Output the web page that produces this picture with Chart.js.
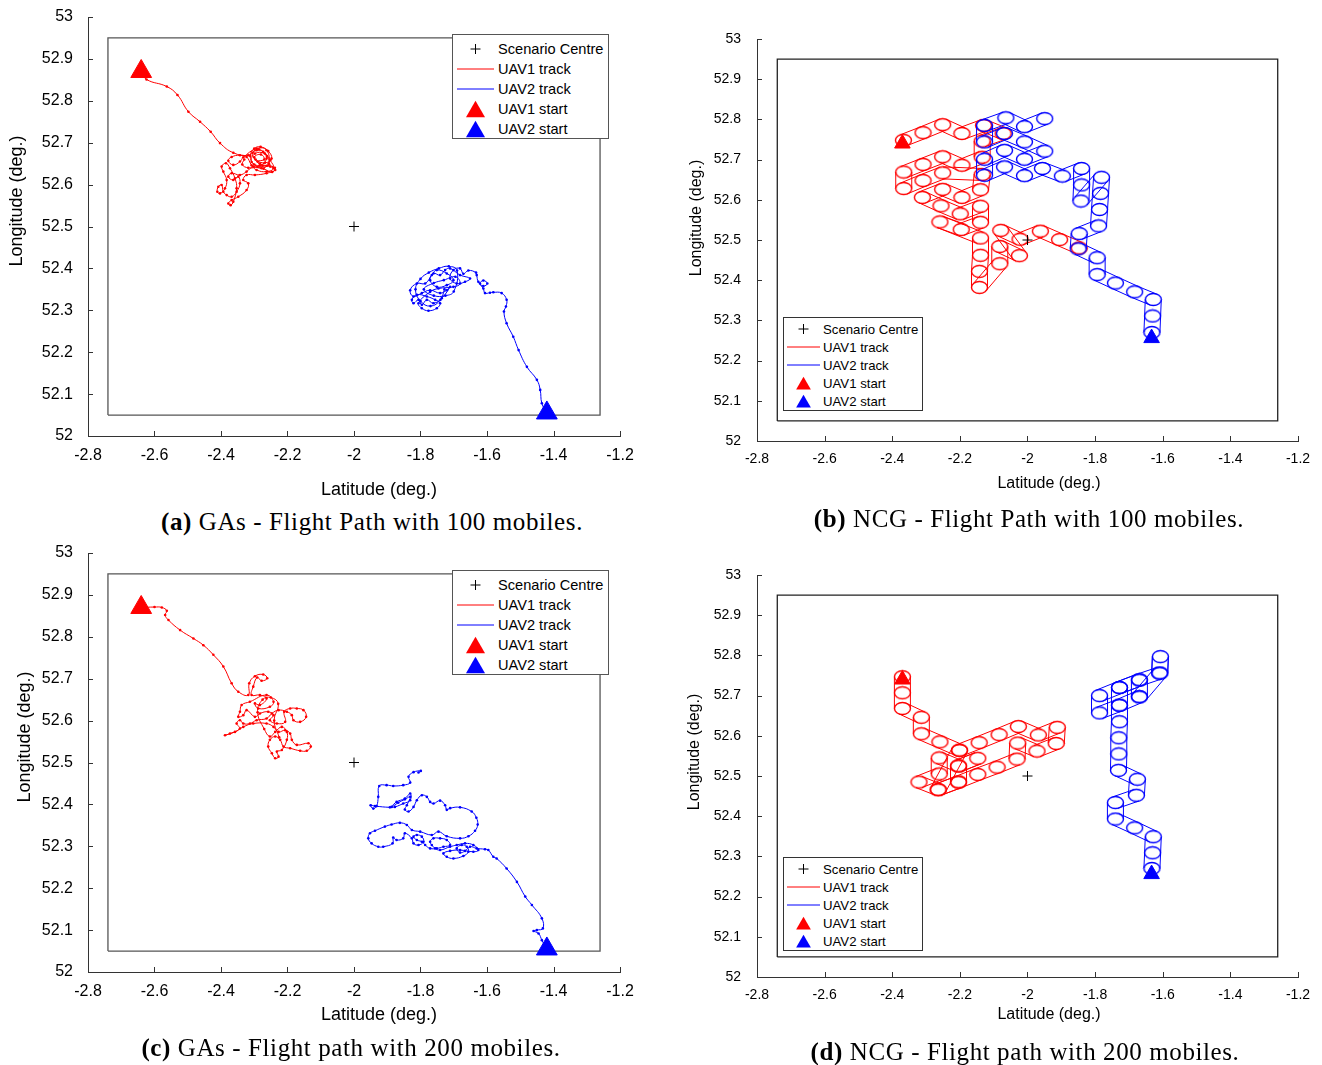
<!DOCTYPE html>
<html>
<head>
<meta charset="utf-8">
<script src="https://cdn.jsdelivr.net/npm/chart.js@4.4.0/dist/chart.umd.min.js"></script>
<style>
  body { margin: 0; width: 1322px; height: 1065px; background: #fff; position: relative; overflow: hidden; font-family: "Liberation Sans", Arial, sans-serif; }
  canvas { position: absolute; }
  .legend { position: absolute; box-sizing: border-box; background: #fff; z-index: 2; color: #000; }
  .legend .row { display: flex; align-items: center; white-space: nowrap; }
  .legend svg { display: block; flex: none; }
  .caption { position: absolute; width: 640px; text-align: center; font-family: "Liberation Serif", "Times New Roman", serif; font-size: 25px; letter-spacing: 0.6px; line-height: 30px; color: #000; }
</style>
</head>
<body>
<script>
// ---- axis ticks ----
const latTicks = [-2.8, -2.6, -2.4, -2.2, -2, -1.8, -1.6, -1.4, -1.2];
const lonTicks = [52, 52.1, 52.2, 52.3, 52.4, 52.5, 52.6, 52.7, 52.8, 52.9, 53];

// ---- common geometry ----
const scenarioCentre = [[-2, 52.5]];
const boundary = [[-2.74, 52.05], [-1.26, 52.05], [-1.26, 52.95], [-2.74, 52.95], [-2.74, 52.05]];
const legendLabels = ['Scenario Centre', 'UAV1 track', 'UAV2 track', 'UAV1 start', 'UAV2 start'];

// ---- (a) GAs, 100 mobiles ----
const gaStart1_100 = [[-2.64, 52.87]];
const gaStart2_100 = [[-1.42, 52.055]];
const gaTrack1_100 = [
  [-2.640, 52.870], [-2.624, 52.851], [-2.563, 52.834], [-2.531, 52.814], [-2.498, 52.774], [-2.463, 52.750],
  [-2.431, 52.726], [-2.403, 52.699], [-2.363, 52.676], [-2.318, 52.670], [-2.293, 52.682], [-2.273, 52.678],
  [-2.263, 52.662], [-2.283, 52.646], [-2.308, 52.654], [-2.298, 52.674], [-2.268, 52.674], [-2.252, 52.658],
  [-2.242, 52.639], [-2.263, 52.631], [-2.293, 52.635], [-2.308, 52.646], [-2.323, 52.666], [-2.343, 52.670],
  [-2.368, 52.666], [-2.378, 52.657], [-2.363, 52.647], [-2.343, 52.655], [-2.333, 52.665], [-2.293, 52.686],
  [-2.263, 52.682], [-2.257, 52.650], [-2.278, 52.639], [-2.303, 52.643], [-2.323, 52.631], [-2.343, 52.623],
  [-2.368, 52.627], [-2.378, 52.619], [-2.363, 52.611], [-2.348, 52.619], [-2.343, 52.603], [-2.353, 52.583],
  [-2.368, 52.571], [-2.383, 52.575], [-2.393, 52.583], [-2.398, 52.599], [-2.408, 52.595], [-2.411, 52.583],
  [-2.403, 52.579], [-2.388, 52.591], [-2.383, 52.611], [-2.393, 52.631], [-2.398, 52.643], [-2.385, 52.651],
  [-2.373, 52.639], [-2.358, 52.615], [-2.353, 52.591], [-2.363, 52.559], [-2.371, 52.551], [-2.378, 52.555],
  [-2.368, 52.563], [-2.348, 52.571], [-2.323, 52.587], [-2.318, 52.603], [-2.333, 52.611], [-2.323, 52.623],
  [-2.298, 52.623], [-2.263, 52.627], [-2.237, 52.635], [-2.252, 52.643], [-2.283, 52.650], [-2.300, 52.665],
  [-2.280, 52.672], [-2.270, 52.660], [-2.290, 52.655], [-2.275, 52.645], [-2.255, 52.648], [-2.262, 52.668],
  [-2.286, 52.684], [-2.305, 52.676], [-2.296, 52.660], [-2.268, 52.652], [-2.248, 52.662], [-2.258, 52.680],
  [-2.281, 52.690], [-2.300, 52.686], [-2.312, 52.668], [-2.300, 52.648], [-2.272, 52.638], [-2.246, 52.630],
  [-2.238, 52.640], [-2.262, 52.645], [-2.290, 52.642], [-2.318, 52.640], [-2.336, 52.648], [-2.330, 52.660]
];
const gaTrack2_100 = [
  [-1.420, 52.055], [-1.435, 52.078], [-1.440, 52.110], [-1.450, 52.134], [-1.480, 52.165], [-1.505, 52.205],
  [-1.521, 52.237], [-1.541, 52.269], [-1.549, 52.297], [-1.543, 52.309], [-1.541, 52.325], [-1.556, 52.341],
  [-1.581, 52.343], [-1.591, 52.342], [-1.606, 52.341], [-1.611, 52.352], [-1.621, 52.364], [-1.611, 52.371],
  [-1.599, 52.364], [-1.611, 52.358], [-1.626, 52.368], [-1.631, 52.384], [-1.633, 52.390], [-1.656, 52.395],
  [-1.671, 52.387], [-1.681, 52.400], [-1.701, 52.396], [-1.711, 52.376], [-1.691, 52.364], [-1.666, 52.368],
  [-1.651, 52.376], [-1.681, 52.384], [-1.711, 52.400], [-1.726, 52.396], [-1.741, 52.384], [-1.761, 52.388],
  [-1.771, 52.372], [-1.751, 52.356], [-1.721, 52.360], [-1.701, 52.372], [-1.721, 52.388], [-1.751, 52.396],
  [-1.766, 52.384], [-1.786, 52.364], [-1.811, 52.364], [-1.831, 52.348], [-1.821, 52.333], [-1.796, 52.341],
  [-1.771, 52.348], [-1.741, 52.341], [-1.721, 52.348], [-1.711, 52.356], [-1.736, 52.329], [-1.761, 52.317],
  [-1.781, 52.325], [-1.796, 52.313], [-1.806, 52.325], [-1.821, 52.317], [-1.826, 52.325], [-1.811, 52.337],
  [-1.781, 52.333], [-1.756, 52.325], [-1.741, 52.317], [-1.751, 52.305], [-1.776, 52.299], [-1.796, 52.305],
  [-1.806, 52.317], [-1.771, 52.344], [-1.746, 52.352], [-1.701, 52.356], [-1.681, 52.364], [-1.695, 52.380],
  [-1.730, 52.372], [-1.760, 52.365], [-1.790, 52.350], [-1.760, 52.335], [-1.725, 52.335], [-1.700, 52.345],
  [-1.690, 52.395], [-1.715, 52.405], [-1.745, 52.400], [-1.775, 52.390], [-1.800, 52.375], [-1.815, 52.350],
  [-1.800, 52.322], [-1.770, 52.310], [-1.740, 52.325], [-1.728, 52.350]
];

// ---- (b) NCG, 100 mobiles ----
const ncgStart1_100 = [[-2.37, 52.74]];
const ncgStart2_100 = [[-1.633, 52.256]];
const ncgTrack1_100 = [
  [-2.367, 52.748], [-2.309, 52.767], [-2.251, 52.787], [-2.194, 52.765], [-2.130, 52.785], [-2.072, 52.765],
  [-2.134, 52.746], [-2.134, 52.706], [-2.194, 52.686], [-2.251, 52.707], [-2.309, 52.688], [-2.366, 52.669],
  [-2.366, 52.628], [-2.309, 52.648], [-2.251, 52.667], [-2.134, 52.663], [-2.139, 52.625], [-2.194, 52.606],
  [-2.251, 52.626], [-2.311, 52.606], [-2.256, 52.585], [-2.199, 52.565], [-2.139, 52.584], [-2.139, 52.544],
  [-2.196, 52.526], [-2.259, 52.545], [-2.139, 52.505], [-2.139, 52.462], [-2.142, 52.422], [-2.142, 52.382],
  [-2.082, 52.441], [-2.082, 52.484], [-2.024, 52.461], [-2.079, 52.524], [-2.022, 52.502], [-1.962, 52.522],
  [-1.905, 52.501], [-1.847, 52.480]
];
const ncgTrack2_100 = [
  [-1.632, 52.270], [-1.630, 52.311], [-1.628, 52.352], [-1.683, 52.371], [-1.740, 52.393], [-1.794, 52.414],
  [-1.794, 52.456], [-1.850, 52.478], [-1.847, 52.516], [-1.790, 52.535], [-1.787, 52.576], [-1.784, 52.616],
  [-1.781, 52.656], [-1.842, 52.597], [-1.840, 52.637], [-1.840, 52.678], [-1.897, 52.659], [-1.956, 52.678],
  [-2.009, 52.660], [-2.068, 52.682], [-2.127, 52.661], [-2.127, 52.701], [-2.068, 52.723], [-2.009, 52.701],
  [-1.949, 52.721], [-2.009, 52.744], [-2.068, 52.765], [-2.127, 52.744], [-2.127, 52.785], [-2.064, 52.804],
  [-2.009, 52.782], [-1.949, 52.802]
];

// ---- (c) GAs, 200 mobiles ----
const gaStart1_200 = [[-2.64, 52.87]];
const gaStart2_200 = [[-1.42, 52.055]];
const gaTrack1_200 = [
  [-2.640, 52.870], [-2.600, 52.871], [-2.578, 52.870], [-2.563, 52.862], [-2.568, 52.852], [-2.558, 52.840],
  [-2.523, 52.816], [-2.483, 52.796], [-2.453, 52.780], [-2.423, 52.757], [-2.393, 52.729], [-2.368, 52.689],
  [-2.348, 52.669], [-2.318, 52.661], [-2.315, 52.689], [-2.298, 52.706], [-2.273, 52.710], [-2.261, 52.701],
  [-2.278, 52.695], [-2.291, 52.703], [-2.303, 52.681], [-2.308, 52.661], [-2.283, 52.661], [-2.263, 52.653],
  [-2.283, 52.637], [-2.298, 52.641], [-2.288, 52.629], [-2.253, 52.633], [-2.242, 52.645], [-2.263, 52.661],
  [-2.313, 52.645], [-2.338, 52.637], [-2.343, 52.621], [-2.348, 52.609], [-2.333, 52.613], [-2.323, 52.625],
  [-2.298, 52.609], [-2.283, 52.617], [-2.258, 52.621], [-2.242, 52.613], [-2.253, 52.601], [-2.232, 52.593],
  [-2.207, 52.597], [-2.210, 52.621], [-2.192, 52.629], [-2.172, 52.629], [-2.152, 52.625], [-2.144, 52.609],
  [-2.162, 52.597], [-2.182, 52.601], [-2.187, 52.613], [-2.202, 52.621], [-2.227, 52.625], [-2.247, 52.617],
  [-2.263, 52.605], [-2.293, 52.601], [-2.313, 52.593], [-2.333, 52.593], [-2.343, 52.601], [-2.353, 52.593],
  [-2.343, 52.581], [-2.373, 52.569], [-2.388, 52.565], [-2.358, 52.573], [-2.333, 52.585], [-2.303, 52.593],
  [-2.263, 52.593], [-2.242, 52.585], [-2.227, 52.573], [-2.207, 52.577], [-2.192, 52.569], [-2.187, 52.554],
  [-2.172, 52.542], [-2.137, 52.546], [-2.130, 52.538], [-2.142, 52.528], [-2.162, 52.528], [-2.192, 52.534],
  [-2.212, 52.538], [-2.222, 52.554], [-2.237, 52.562], [-2.253, 52.554], [-2.258, 52.538], [-2.247, 52.522],
  [-2.237, 52.510], [-2.227, 52.514], [-2.232, 52.526], [-2.217, 52.530], [-2.202, 52.554], [-2.202, 52.573],
  [-2.217, 52.585], [-2.237, 52.573], [-2.253, 52.562], [-2.270, 52.580], [-2.290, 52.620], [-2.275, 52.650],
  [-2.250, 52.655], [-2.228, 52.640], [-2.240, 52.600], [-2.225, 52.560]
];
const gaTrack2_200 = [
  [-1.422, 52.056], [-1.435, 52.076], [-1.445, 52.092], [-1.460, 52.098], [-1.450, 52.100], [-1.432, 52.104],
  [-1.435, 52.128], [-1.465, 52.160], [-1.485, 52.180], [-1.510, 52.215], [-1.541, 52.247], [-1.571, 52.271],
  [-1.581, 52.275], [-1.596, 52.291], [-1.606, 52.293], [-1.631, 52.295], [-1.651, 52.299], [-1.666, 52.289],
  [-1.681, 52.285], [-1.691, 52.295], [-1.676, 52.303], [-1.661, 52.299], [-1.656, 52.287], [-1.671, 52.277],
  [-1.701, 52.271], [-1.721, 52.275], [-1.731, 52.283], [-1.711, 52.289], [-1.681, 52.291], [-1.641, 52.287],
  [-1.626, 52.291], [-1.641, 52.303], [-1.666, 52.307], [-1.691, 52.303], [-1.711, 52.299], [-1.741, 52.291],
  [-1.756, 52.295], [-1.766, 52.303], [-1.771, 52.311], [-1.761, 52.319], [-1.741, 52.319], [-1.721, 52.315],
  [-1.711, 52.303], [-1.731, 52.299], [-1.751, 52.295], [-1.771, 52.295], [-1.786, 52.303], [-1.796, 52.311],
  [-1.811, 52.315], [-1.821, 52.323], [-1.811, 52.327], [-1.796, 52.323], [-1.791, 52.311], [-1.806, 52.303],
  [-1.821, 52.307], [-1.826, 52.319], [-1.847, 52.331], [-1.852, 52.319], [-1.872, 52.315], [-1.882, 52.321],
  [-1.884, 52.307], [-1.912, 52.299], [-1.927, 52.299], [-1.947, 52.307], [-1.957, 52.319], [-1.952, 52.331],
  [-1.937, 52.337], [-1.907, 52.347], [-1.887, 52.352], [-1.862, 52.356], [-1.841, 52.351], [-1.826, 52.339],
  [-1.801, 52.335], [-1.766, 52.327], [-1.746, 52.335], [-1.721, 52.324], [-1.681, 52.319], [-1.656, 52.324],
  [-1.636, 52.337], [-1.628, 52.352], [-1.632, 52.368], [-1.646, 52.383], [-1.681, 52.393], [-1.711, 52.391],
  [-1.721, 52.387], [-1.726, 52.398], [-1.741, 52.409], [-1.761, 52.402], [-1.771, 52.406], [-1.781, 52.418],
  [-1.796, 52.422], [-1.811, 52.410], [-1.821, 52.394], [-1.836, 52.383], [-1.847, 52.388], [-1.841, 52.398],
  [-1.831, 52.418], [-1.847, 52.412], [-1.867, 52.404], [-1.887, 52.394], [-1.872, 52.406], [-1.847, 52.414],
  [-1.831, 52.426], [-1.831, 52.410], [-1.852, 52.402], [-1.877, 52.394], [-1.892, 52.393], [-1.937, 52.396],
  [-1.950, 52.398], [-1.942, 52.390], [-1.932, 52.396], [-1.927, 52.418], [-1.924, 52.444], [-1.902, 52.446],
  [-1.882, 52.444], [-1.852, 52.446], [-1.831, 52.452], [-1.836, 52.466], [-1.821, 52.477], [-1.799, 52.480],
  [-1.806, 52.476]
];

// ---- (d) NCG, 200 mobiles ----
const ncgStart1_200 = [[-2.37, 52.74]];
const ncgStart2_200 = [[-1.633, 52.256]];
const ncgTrack1_200 = [
  [-2.370, 52.747], [-2.370, 52.707], [-2.370, 52.668], [-2.314, 52.646], [-2.314, 52.605], [-2.259, 52.585],
  [-2.201, 52.564], [-2.143, 52.583], [-2.084, 52.603], [-2.027, 52.623], [-1.968, 52.602], [-1.912, 52.621],
  [-1.915, 52.581], [-1.972, 52.562], [-2.029, 52.582], [-2.031, 52.542], [-2.090, 52.522], [-2.147, 52.504],
  [-2.204, 52.485], [-2.264, 52.466], [-2.321, 52.485], [-2.261, 52.505], [-2.261, 52.545], [-2.204, 52.525],
  [-2.147, 52.544], [-2.204, 52.525], [-2.204, 52.485], [-2.264, 52.466], [-2.201, 52.564]
];
const ncgTrack2_200 = [
  [-1.632, 52.270], [-1.630, 52.309], [-1.628, 52.349], [-1.683, 52.371], [-1.740, 52.393], [-1.740, 52.434],
  [-1.678, 52.452], [-1.675, 52.492], [-1.731, 52.514], [-1.730, 52.555], [-1.730, 52.595], [-1.728, 52.635],
  [-1.728, 52.676], [-1.787, 52.657], [-1.787, 52.700], [-1.728, 52.720], [-1.669, 52.739], [-1.609, 52.756],
  [-1.607, 52.797], [-1.609, 52.756], [-1.669, 52.697], [-1.728, 52.676], [-1.728, 52.720], [-1.669, 52.739],
  [-1.669, 52.697]
];

const RED = '#ff0000';
const BLUE = '#0000ff';

Chart.defaults.font.family = '"Liberation Sans", Arial, sans-serif';
Chart.defaults.color = '#000';

const toXY = pairs => pairs.map(p => ({ x: p[0], y: p[1] }));
const fmt = v => String(Math.round(v * 10) / 10);

// loiter circle marker (drawn as an ellipse, like the original figure)
function loiterMarker(color) {
  const c = document.createElement('canvas');
  c.width = 19; c.height = 15;
  const g = c.getContext('2d');
  g.strokeStyle = color;
  g.lineWidth = 1.4;
  g.beginPath();
  g.ellipse(9.5, 7.5, 8, 6, 0, 0, Math.PI * 2);
  g.stroke();
  return c;
}

// MATLAB-like inward ticks and axis titles placed like the original
const matlabAxes = {
  id: 'matlabAxes',
  afterDraw(chart, args, opts) {
    const { ctx, chartArea } = chart;
    const xs = chart.scales.x, ys = chart.scales.y;
    ctx.save();
    ctx.strokeStyle = opts.color;
    ctx.lineWidth = 1;
    ctx.beginPath();
    xs.ticks.forEach(t => {
      const px = Math.round(xs.getPixelForValue(t.value)) + 0.5;
      ctx.moveTo(px, chartArea.bottom);
      ctx.lineTo(px, chartArea.bottom - opts.len);
    });
    ys.ticks.forEach(t => {
      const py = Math.round(ys.getPixelForValue(t.value)) + 0.5;
      ctx.moveTo(chartArea.left, py);
      ctx.lineTo(chartArea.left + opts.len, py);
    });
    ctx.stroke();
    ctx.font = opts.titleSize + 'px "Liberation Sans", Arial, sans-serif';
    ctx.fillStyle = '#000';
    ctx.textAlign = 'center';
    ctx.textBaseline = 'middle';
    ctx.fillText(opts.xTitle, opts.xTitlePos[0], opts.xTitlePos[1]);
    ctx.translate(opts.yTitlePos[0], opts.yTitlePos[1]);
    ctx.rotate(-Math.PI / 2);
    ctx.fillText(opts.yTitle, 0, 0);
    ctx.restore();
  }
};

// tangent lines between consecutive loiter circles
const loiterBands = {
  id: 'loiterBands',
  beforeDatasetDraw(chart, args) {
    const ds = chart.data.datasets[args.index];
    if (!ds.band) return;
    const pts = args.meta.data;
    const ctx = chart.ctx;
    const [rx, ry] = ds.band;
    ctx.save();
    ctx.strokeStyle = ds.borderColor;
    ctx.lineWidth = 1;
    ctx.beginPath();
    for (let i = 1; i < pts.length; i++) {
      const a = pts[i - 1], b = pts[i];
      const dx = b.x - a.x, dy = b.y - a.y;
      const len = Math.hypot(dx, dy);
      if (!len) continue;
      const nx = -dy / len * rx, ny = dx / len * ry;
      [1, -1].forEach(s => {
        ctx.moveTo(a.x + s * nx, a.y + s * ny);
        ctx.lineTo(b.x + s * nx, b.y + s * ny);
      });
    }
    ctx.stroke();
    ctx.restore();
  }
};

function triangleSvg(cx, cy, r, color) {
  const pts = [[cx, cy - r * 0.75], [cx + 0.866 * r, cy + 0.75 * r], [cx - 0.866 * r, cy + 0.75 * r]];
  return `<polygon points="${pts.map(p => p.join(',')).join(' ')}" fill="${color}"/>`;
}

function buildLegend(chart, lg) {
  const el = document.createElement('div');
  el.className = 'legend';
  Object.assign(el.style, {
    left: lg.left + 'px', top: lg.top + 'px', width: lg.w + 'px', height: lg.h + 'px',
    fontSize: lg.font + 'px', paddingTop: lg.padTop + 'px', border: '1px solid ' + lg.border
  });
  legendLabels.forEach(label => {
    const ds = chart.data.datasets.find(d => d.label === label);
    const cx = lg.sym / 2, cy = lg.row / 2;
    let shape;
    if (ds.pointStyle === 'cross') {
      shape = `<path d="M${cx - 5} ${cy}H${cx + 5}M${cx} ${cy - 5}V${cy + 5}" stroke="#000" stroke-width="1"/>`;
    } else if (ds.pointStyle === 'triangle') {
      shape = triangleSvg(cx, cy, lg.tri, ds.backgroundColor);
    } else {
      shape = `<path d="M0 ${cy}H${lg.sym}" stroke="${ds.borderColor}" stroke-width="1"/>`;
    }
    const row = document.createElement('div');
    row.className = 'row';
    row.style.height = lg.row + 'px';
    row.innerHTML = `<svg width="${lg.sym}" height="${lg.row}" style="margin-left:${lg.symLeft}px;margin-right:${lg.gap}px">${shape}</svg><span>${label}</span>`;
    el.appendChild(row);
  });
  document.body.appendChild(el);
}

function makePanel(p) {
  const canvas = document.createElement('canvas');
  canvas.width = p.w; canvas.height = p.h;
  canvas.style.left = p.left + 'px';
  canvas.style.top = p.top + 'px';
  document.body.appendChild(canvas);

  const trackStyle = color => p.ga
    ? { showLine: true, borderColor: color, backgroundColor: color, borderWidth: 1, tension: 0.45, pointRadius: 1.3, pointStyle: 'circle', pointBorderWidth: 0 }
    : { showLine: false, borderColor: color, backgroundColor: color, pointRadius: 7, pointStyle: loiterMarker(color), band: [8, 6] };

  const datasets = [
    { label: 'UAV1 start', data: toXY(p.start1), pointStyle: 'triangle', pointRadius: p.tri, backgroundColor: RED, borderColor: RED, borderWidth: 1, order: 1 },
    { label: 'UAV2 start', data: toXY(p.start2), pointStyle: 'triangle', pointRadius: p.tri, backgroundColor: BLUE, borderColor: BLUE, borderWidth: 1, order: 2 },
    { label: 'Scenario Centre', data: toXY(scenarioCentre), pointStyle: 'cross', pointRadius: 5, borderColor: '#000', backgroundColor: '#000', borderWidth: 1, order: 3 },
    Object.assign({ label: 'UAV2 track', data: toXY(p.track2), order: 4 }, trackStyle(BLUE)),
    Object.assign({ label: 'UAV1 track', data: toXY(p.track1), order: 5 }, trackStyle(RED)),
    { label: 'Boundary', data: toXY(boundary), showLine: true, borderColor: p.boxColor, borderWidth: 1.3, pointRadius: 0, tension: 0, order: 6 }
  ];

  const chart = new Chart(canvas, {
    type: 'scatter',
    data: { datasets },
    plugins: [matlabAxes, loiterBands],
    options: {
      responsive: false,
      animation: false,
      devicePixelRatio: 1,
      events: [],
      layout: { padding: { left: 0, top: p.padTop, right: p.padRight, bottom: 0 } },
      plugins: {
        legend: { display: false },
        tooltip: { enabled: false },
        matlabAxes: {
          color: '#333', len: 5, titleSize: p.titleFont,
          xTitle: 'Latitude (deg.)', xTitlePos: p.xTitle,
          yTitle: 'Longitude (deg.)', yTitlePos: p.yTitle
        }
      },
      scales: {
        x: {
          type: 'linear', min: -2.8, max: -1.2,
          afterBuildTicks: s => { s.ticks = latTicks.map(v => ({ value: v })); },
          afterFit: s => { s.height = p.xH; },
          grid: { display: false },
          border: { display: true, color: '#333', width: 1 },
          ticks: { autoSkip: false, maxRotation: 0, padding: p.tickPadX, font: { size: p.tickFont }, color: '#000', callback: fmt }
        },
        y: {
          type: 'linear', min: 52, max: 53,
          afterBuildTicks: s => { s.ticks = lonTicks.map(v => ({ value: v })); },
          afterFit: s => { s.width = p.yW; },
          grid: { display: false },
          border: { display: true, color: '#333', width: 1 },
          ticks: { autoSkip: false, padding: p.tickPadY, font: { size: p.tickFont }, color: '#000', callback: fmt }
        }
      }
    }
  });

  buildLegend(chart, p.legend);

  const cap = document.createElement('div');
  cap.className = 'caption';
  cap.style.left = (p.caption.x - 320) + 'px';
  cap.style.top = (p.caption.y - 15) + 'px';
  cap.innerHTML = `<b>(${p.caption.tag})</b> ${p.caption.text}`;
  document.body.appendChild(cap);
  return chart;
}

const gaLegend = { w: 157, h: 105, row: 20, padTop: 4, symLeft: 4, sym: 37, gap: 4, font: 14.6, tri: 11, border: '#555' };
const ncgLegend = { w: 140, h: 94, row: 18, padTop: 2, symLeft: 3, sym: 33, gap: 3, font: 13.2, tri: 8.5, border: '#333' };

makePanel({
  left: 0, top: 0, w: 650, h: 505, padTop: 17, padRight: 30, yW: 88, xH: 69,
  tickFont: 16, tickPadX: 2, tickPadY: 7, titleFont: 18, xTitle: [379, 490], yTitle: [17, 201],
  ga: true, tri: 12, boxColor: '#555',
  track1: gaTrack1_100, track2: gaTrack2_100, start1: gaStart1_100, start2: gaStart2_100,
  legend: Object.assign({ left: 452, top: 34 }, gaLegend),
  caption: { x: 372, y: 522, tag: 'a', text: 'GAs - Flight Path with 100 mobiles.' }
});

makePanel({
  left: 665, top: 0, w: 650, h: 505, padTop: 39, padRight: 17, yW: 92, xH: 64,
  tickFont: 14, tickPadX: 2, tickPadY: 8, titleFont: 16, xTitle: [384, 484], yTitle: [32, 218],
  ga: false, tri: 9, boxColor: '#222',
  track1: ncgTrack1_100, track2: ncgTrack2_100, start1: ncgStart1_100, start2: ncgStart2_100,
  legend: Object.assign({ left: 783, top: 317 }, ncgLegend),
  caption: { x: 1029, y: 519, tag: 'b', text: 'NCG - Flight Path with 100 mobiles.' }
});

makePanel({
  left: 0, top: 536, w: 650, h: 500, padTop: 17, padRight: 30, yW: 88, xH: 64,
  tickFont: 16, tickPadX: 2, tickPadY: 7, titleFont: 18, xTitle: [379, 479], yTitle: [25, 201],
  ga: true, tri: 12, boxColor: '#555',
  track1: gaTrack1_200, track2: gaTrack2_200, start1: gaStart1_200, start2: gaStart2_200,
  legend: Object.assign({ left: 452, top: 570 }, gaLegend),
  caption: { x: 351, y: 1048, tag: 'c', text: 'GAs - Flight path with 200 mobiles.' }
});

makePanel({
  left: 665, top: 536, w: 650, h: 505, padTop: 39, padRight: 17, yW: 92, xH: 64,
  tickFont: 14, tickPadX: 2, tickPadY: 8, titleFont: 16, xTitle: [384, 479], yTitle: [30, 216],
  ga: false, tri: 9, boxColor: '#222',
  track1: ncgTrack1_200, track2: ncgTrack2_200, start1: ncgStart1_200, start2: ncgStart2_200,
  legend: Object.assign({ left: 783, top: 857 }, ncgLegend),
  caption: { x: 1025, y: 1052, tag: 'd', text: 'NCG - Flight path with 200 mobiles.' }
});
</script>
</body>
</html>
